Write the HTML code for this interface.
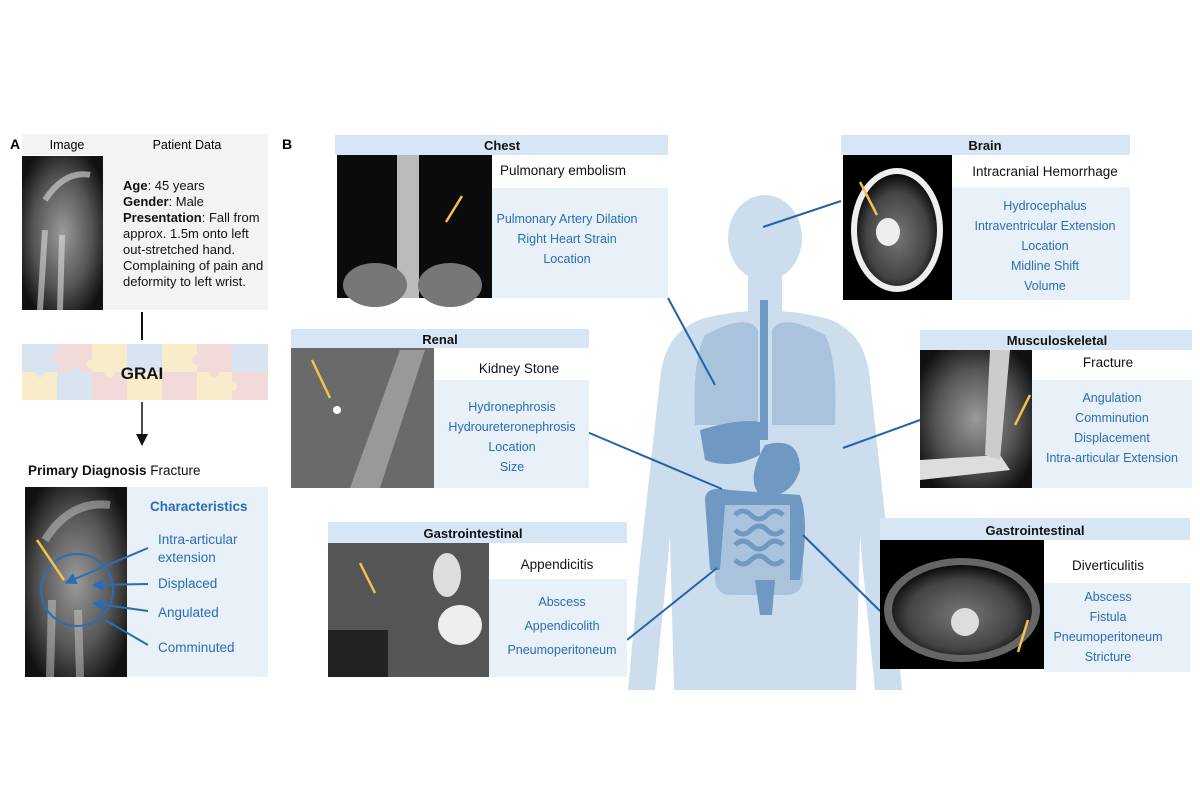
<!DOCTYPE html>
<html><head><meta charset="utf-8"><style>
html,body{margin:0;padding:0;background:#fff;width:1200px;height:800px;overflow:hidden}
svg{display:block}
text{font-family:"Liberation Sans",sans-serif}
.b{fill:#2a6db5;font-size:12.5px;text-anchor:middle}
.h{font-weight:bold;font-size:13px;text-anchor:middle;fill:#111}
.d{font-size:13.5px;text-anchor:middle;fill:#111}
</style></head><body>
<svg width="1200" height="800" viewBox="0 0 1200 800">
<defs>
<radialGradient id="xr" cx="50%" cy="50%" r="60%"><stop offset="0" stop-color="#9a9a9a"/><stop offset="0.6" stop-color="#555"/><stop offset="1" stop-color="#111"/></radialGradient>
<radialGradient id="ct" cx="50%" cy="55%" r="55%"><stop offset="0" stop-color="#777"/><stop offset="0.7" stop-color="#444"/><stop offset="1" stop-color="#0a0a0a"/></radialGradient>
<marker id="ah" markerWidth="8" markerHeight="8" refX="4" refY="4" orient="auto"><path d="M0,0 L8,4 L0,8 z" fill="#111"/></marker>
<marker id="bh" markerWidth="6" markerHeight="6" refX="3" refY="3" orient="auto"><path d="M0,0 L6,3 L0,6 z" fill="#2a6db5"/></marker>
</defs>

<!-- Panel A -->
<text x="10" y="149" font-weight="bold" font-size="14">A</text>
<rect x="22" y="134" width="246" height="21" fill="#f3f3f3"/>
<text x="67" y="149" font-size="12.5" text-anchor="middle">Image</text>
<text x="187" y="149" font-size="12.5" text-anchor="middle">Patient Data</text>
<rect x="103" y="155" width="165" height="155" fill="#f3f3f3"/>
<rect x="22" y="156" width="81" height="154" fill="url(#xr)"/>
<path d="M40,310 L45,230 M60,310 L62,235 M45,200 Q65,170 90,175" stroke="#ddd" stroke-width="6" fill="none" opacity="0.6"/>
<g font-size="13" fill="#111">
<text x="123" y="190"><tspan font-weight="bold">Age</tspan>: 45 years</text>
<text x="123" y="206"><tspan font-weight="bold">Gender</tspan>: Male</text>
<text x="123" y="222"><tspan font-weight="bold">Presentation</tspan>: Fall from</text>
<text x="123" y="238">approx. 1.5m onto left</text>
<text x="123" y="254">out-stretched hand.</text>
<text x="123" y="270">Complaining of pain and</text>
<text x="123" y="286">deformity to left wrist.</text>
</g>
<line x1="142" y1="312" x2="142" y2="340" stroke="#111" stroke-width="2"/>
<g>
<rect x="22" y="344" width="35" height="28" fill="#d8e5f1"/><rect x="57" y="344" width="35" height="28" fill="#f2d9da"/><rect x="92" y="344" width="35" height="28" fill="#f8eccb"/><rect x="127" y="344" width="35" height="28" fill="#d8e5f1"/><rect x="162" y="344" width="35" height="28" fill="#f8eccb"/><rect x="197" y="344" width="35" height="28" fill="#f2d9da"/><rect x="232" y="344" width="36" height="28" fill="#d8e5f1"/>
<rect x="22" y="372" width="35" height="28" fill="#f8eccb"/><rect x="57" y="372" width="35" height="28" fill="#d8e5f1"/><rect x="92" y="372" width="35" height="28" fill="#f2d9da"/><rect x="127" y="372" width="35" height="28" fill="#f8eccb"/><rect x="162" y="372" width="35" height="28" fill="#f2d9da"/><rect x="197" y="372" width="35" height="28" fill="#f8eccb"/><rect x="232" y="372" width="36" height="28" fill="#f2d9da"/>
<circle cx="57" cy="358" r="5" fill="#f2d9da"/><circle cx="92" cy="364" r="5" fill="#f8eccb"/><circle cx="40" cy="372" r="5" fill="#d8e5f1"/><circle cx="110" cy="372" r="5" fill="#f8eccb"/><circle cx="197" cy="360" r="5" fill="#f2d9da"/><circle cx="232" cy="386" r="5" fill="#f8eccb"/><circle cx="75" cy="372" r="5" fill="#d8e5f1"/><circle cx="215" cy="372" r="5" fill="#f2d9da"/>
</g>
<text x="142" y="379" font-weight="bold" font-size="17" text-anchor="middle" fill="#111">GRAI</text>
<line x1="142" y1="402" x2="142" y2="440" stroke="#111" stroke-width="1.5" marker-end="url(#ah)"/>
<text x="28" y="475" font-size="13.5" fill="#111"><tspan font-weight="bold">Primary Diagnosis</tspan>  Fracture</text>
<rect x="127" y="487" width="141" height="190" fill="#e8f0f8"/>
<rect x="25" y="487" width="102" height="190" fill="url(#xr)"/>
<path d="M50,677 L52,600 M80,677 L78,610 M45,540 Q70,500 110,505" stroke="#ccc" stroke-width="8" fill="none" opacity="0.5"/>
<circle cx="77" cy="590" r="36" fill="none" stroke="#2a6db5" stroke-width="2"/>
<line x1="37" y1="540" x2="64" y2="580" stroke="#f2c14e" stroke-width="2.5"/>
<g stroke="#2a6db5" stroke-width="2" fill="none">
<line x1="148" y1="548" x2="70" y2="581" marker-end="url(#bh)"/><line x1="148" y1="584" x2="98" y2="585" marker-end="url(#bh)"/><line x1="148" y1="611" x2="98" y2="604" marker-end="url(#bh)"/><line x1="148" y1="645" x2="105" y2="620"/>
</g>
<g fill="#2a6db5" font-size="13.5">
<text x="150" y="511" font-weight="bold">Characteristics</text>
<text x="158" y="544">Intra-articular</text>
<text x="158" y="562">extension</text>
<text x="158" y="588">Displaced</text>
<text x="158" y="617">Angulated</text>
<text x="158" y="652">Comminuted</text>
</g>

<!-- Panel B -->
<text x="282" y="149" font-weight="bold" font-size="14">B</text>

<!-- body silhouette -->
<g fill="#ccdeed">
<ellipse cx="765" cy="238" rx="37" ry="43"/>
<rect x="748" y="268" width="34" height="55"/>
<path d="M705,318 Q765,303 825,318 Q855,326 860,360 L862,460 L856,690 L674,690 L668,460 L670,360 Q675,326 705,318 Z"/>
<path d="M700,322 Q665,330 660,380 L640,560 L628,690 L655,690 L668,560 L678,430 Z"/>
<path d="M830,322 Q865,330 870,380 L890,560 L902,690 L875,690 L862,560 L852,430 Z"/>
</g>
<g fill="#a9c3dc">
<path d="M705,335 Q748,312 758,330 L758,425 L695,425 Q692,360 705,335Z"/>
<path d="M825,335 Q782,312 772,330 L772,425 L835,425 Q838,360 825,335Z"/>
<rect x="715" y="500" width="88" height="95" rx="15"/>
</g>
<g fill="#6f98c2">
<path d="M700,430 Q740,418 760,422 L760,455 Q730,470 705,460Z"/>
<path d="M765,445 Q800,435 800,470 Q790,500 760,495 Q745,480 765,445Z"/>
<rect x="760" y="300" width="8" height="140"/>
<path d="M705,500 Q705,485 730,490 L800,495 Q810,520 800,580 L790,580 L790,505 L725,505 L720,570 L710,570 Z"/>
<path d="M735,515 q8,-8 16,0 t16,0 t16,0 M735,530 q8,8 16,0 t16,0 t16,0 M735,545 q8,-8 16,0 t16,0 t16,0 M735,560 q8,8 16,0 t16,0 t16,0" stroke="#6f98c2" stroke-width="5" fill="none"/>
<path d="M755,580 L775,580 L772,615 L760,615Z"/>
</g>

<!-- connectors -->
<g stroke="#2563a8" stroke-width="2">
<line x1="668" y1="298" x2="715" y2="385"/>
<line x1="763" y1="227" x2="841" y2="201"/>
<line x1="587" y1="432" x2="722" y2="489"/>
<line x1="843" y1="448" x2="920" y2="420"/>
<line x1="627" y1="640" x2="717" y2="568"/>
<line x1="803" y1="535" x2="880" y2="611"/>
</g>

<!-- Chest -->
<rect x="335" y="135" width="333" height="20" fill="#d7e6f4"/>
<text class="h" x="502" y="150">Chest</text>
<rect x="337" y="155" width="155" height="143" fill="#0b0b0b"/>
<rect x="397" y="155" width="22" height="143" fill="#bbb"/>
<ellipse cx="375" cy="285" rx="32" ry="22" fill="#777"/><ellipse cx="450" cy="285" rx="32" ry="22" fill="#777"/>
<line x1="462" y1="196" x2="446" y2="222" stroke="#f2c14e" stroke-width="2.5"/>
<text class="d" x="563" y="175">Pulmonary embolism</text>
<rect x="492" y="188" width="176" height="110" fill="#e8f0f8"/>
<text class="b" x="567" y="223">Pulmonary Artery Dilation</text>
<text class="b" x="567" y="243">Right Heart Strain</text>
<text class="b" x="567" y="263">Location</text>

<!-- Brain -->
<rect x="841" y="135" width="289" height="20" fill="#d7e6f4"/>
<text class="h" x="985" y="150">Brain</text>
<rect x="843" y="155" width="109" height="145" fill="#000"/>
<ellipse cx="897" cy="230" rx="46" ry="62" fill="#eee"/>
<ellipse cx="897" cy="230" rx="40" ry="56" fill="url(#ct)"/>
<ellipse cx="888" cy="232" rx="12" ry="14" fill="#eee"/>
<line x1="860" y1="182" x2="877" y2="215" stroke="#f2c14e" stroke-width="2.5"/>
<text class="d" x="1045" y="176">Intracranial Hemorrhage</text>
<rect x="952" y="187" width="178" height="113" fill="#e8f0f8"/>
<text class="b" x="1045" y="210">Hydrocephalus</text>
<text class="b" x="1045" y="230">Intraventricular Extension</text>
<text class="b" x="1045" y="250">Location</text>
<text class="b" x="1045" y="270">Midline Shift</text>
<text class="b" x="1045" y="290">Volume</text>

<!-- Renal -->
<rect x="291" y="329" width="298" height="19" fill="#d7e6f4"/>
<text class="h" x="440" y="344">Renal</text>
<rect x="291" y="348" width="143" height="140" fill="#6a6a6a"/>
<path d="M350,488 L400,350 L425,350 L380,488Z" fill="#999"/>
<circle cx="337" cy="410" r="4" fill="#fff"/>
<line x1="312" y1="360" x2="330" y2="398" stroke="#f2c14e" stroke-width="2.5"/>
<text class="d" x="519" y="373">Kidney Stone</text>
<rect x="434" y="380" width="155" height="108" fill="#e8f0f8"/>
<text class="b" x="512" y="411">Hydronephrosis</text>
<text class="b" x="512" y="431">Hydroureteronephrosis</text>
<text class="b" x="512" y="451">Location</text>
<text class="b" x="512" y="471">Size</text>

<!-- Musculoskeletal -->
<rect x="920" y="330" width="272" height="20" fill="#d7e6f4"/>
<text class="h" x="1057" y="345">Musculoskeletal</text>
<rect x="920" y="350" width="112" height="138" fill="url(#xr)"/>
<path d="M920,460 L1000,455 L1010,470 L920,480Z" fill="#ddd"/>
<path d="M990,350 L1010,350 L1000,460 L985,455Z" fill="#ccc"/>
<line x1="1030" y1="395" x2="1015" y2="425" stroke="#f2c14e" stroke-width="2.5"/>
<text class="d" x="1108" y="367">Fracture</text>
<rect x="1032" y="380" width="160" height="108" fill="#e8f0f8"/>
<text class="b" x="1112" y="402">Angulation</text>
<text class="b" x="1112" y="422">Comminution</text>
<text class="b" x="1112" y="442">Displacement</text>
<text class="b" x="1112" y="462">Intra-articular Extension</text>

<!-- GI left -->
<rect x="328" y="522" width="299" height="21" fill="#d7e6f4"/>
<text class="h" x="473" y="538">Gastrointestinal</text>
<rect x="328" y="543" width="161" height="134" fill="#555"/>
<ellipse cx="447" cy="575" rx="14" ry="22" fill="#ddd"/>
<ellipse cx="460" cy="625" rx="22" ry="20" fill="#eee"/>
<rect x="328" y="630" width="60" height="47" fill="#222"/>
<line x1="360" y1="563" x2="375" y2="593" stroke="#f2c14e" stroke-width="2.5"/>
<text class="d" x="557" y="569">Appendicitis</text>
<rect x="489" y="579" width="138" height="98" fill="#e8f0f8"/>
<text class="b" x="562" y="606">Abscess</text>
<text class="b" x="562" y="630">Appendicolith</text>
<text class="b" x="562" y="654">Pneumoperitoneum</text>

<!-- GI right -->
<rect x="880" y="518" width="310" height="22" fill="#d7e6f4"/>
<text class="h" x="1035" y="535">Gastrointestinal</text>
<rect x="880" y="540" width="164" height="129" fill="#000"/>
<ellipse cx="962" cy="610" rx="78" ry="52" fill="#666"/>
<ellipse cx="962" cy="610" rx="70" ry="45" fill="url(#ct)"/>
<circle cx="965" cy="622" r="14" fill="#ddd"/>
<line x1="1028" y1="620" x2="1018" y2="652" stroke="#f2c14e" stroke-width="2.5"/>
<text class="d" x="1108" y="570">Diverticulitis</text>
<rect x="1044" y="583" width="146" height="89" fill="#e8f0f8"/>
<text class="b" x="1108" y="601">Abscess</text>
<text class="b" x="1108" y="621">Fistula</text>
<text class="b" x="1108" y="641">Pneumoperitoneum</text>
<text class="b" x="1108" y="661">Stricture</text>
</svg>
</body></html>
